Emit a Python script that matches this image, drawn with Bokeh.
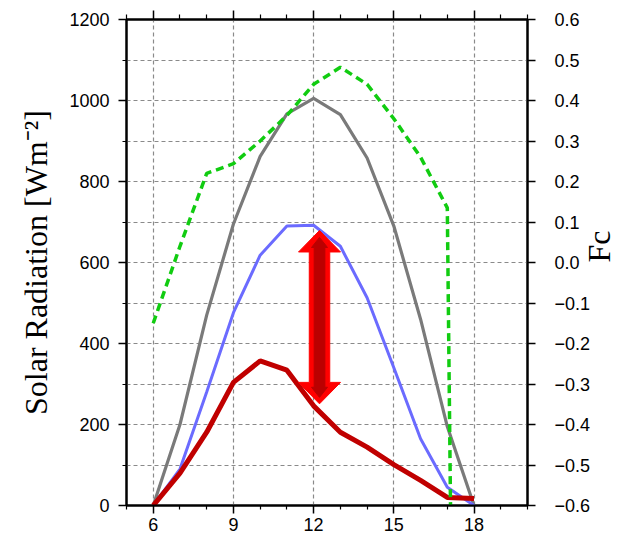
import math
from bokeh.plotting import figure
from bokeh.models import (Range1d, LinearAxis, FixedTicker, CustomJSTickFormatter,
                          ColumnDataSource)
from bokeh.embed import file_html
from bokeh.resources import INLINE

# ---------------- data ----------------
hours = [6, 7, 8, 9, 10, 11, 12, 13, 14, 15, 16, 17, 18]
total_rad = [0, 200, 470, 695, 862, 967, 1005, 965, 858, 690, 460, 195, 0]
clear_rad = [0, 90, 280, 476, 618, 690, 692, 640, 513, 340, 165, 45, 0]
diffuse_rad = [0, 80, 181, 304, 357, 334, 246, 181, 144, 101, 62, 20, 17]

fc_hours = [6, 7, 8, 9, 10, 11, 12, 13, 14, 15, 16, 17, 17.12]
fc_values = [-0.15, 0.04, 0.22, 0.244, 0.30, 0.363, 0.44, 0.482, 0.44, 0.355, 0.26, 0.135, -0.6]

x_major = [6, 9, 12, 15, 18]
x_minor = [5, 7, 8, 10, 11, 13, 14, 16, 17, 19, 20]
y_major = [0, 200, 400, 600, 800, 1000, 1200]
y_minor = [100, 300, 500, 700, 900, 1100]
y_grid = list(range(0, 1201, 100))
fc_ticks = [round(-0.6 + 0.1 * i, 1) for i in range(13)]

left_title = "Solar Radiation [Wm\u207b\u00b2]"
right_title = "Fc"

# double arrow annotation (centre hour, bottom tip, top tip)
arrow_x = 12.22
arrow_bottom = 251
arrow_top = 679

# ---------------- figure ----------------
p = figure(width=638, height=536, output_backend="svg", toolbar_location=None,
           x_range=Range1d(5, 20), y_range=Range1d(0, 1200),
           min_border_left=126, min_border_right=110, min_border_top=19,
           min_border_bottom=31)
p.extra_y_ranges = {"fc": Range1d(-0.6, 0.6)}

p.outline_line_color = "black"
p.outline_line_width = 2
p.background_fill_color = "white"
p.border_fill_color = "white"

tick_font = "Liberation Sans"
label_font = "Liberation Serif"

# bottom axis
xa = p.xaxis[0]
xa.ticker = FixedTicker(ticks=x_major, minor_ticks=x_minor)
xa.major_tick_out = 8
xa.major_tick_in = 0
xa.minor_tick_out = 4
xa.minor_tick_in = 0
xa.axis_line_width = 2
xa.major_tick_line_width = 1.5
xa.minor_tick_line_width = 1.2
xa.major_label_text_font = tick_font
xa.major_label_text_font_size = "18px"
xa.major_label_text_color = "black"
xa.major_label_standoff = 4

# left axis
ya = p.yaxis[0]
ya.ticker = FixedTicker(ticks=y_major, minor_ticks=y_minor)
ya.major_tick_out = 8
ya.major_tick_in = 0
ya.minor_tick_out = 4
ya.minor_tick_in = 0
ya.axis_line_width = 2
ya.major_tick_line_width = 1.5
ya.minor_tick_line_width = 1.2
ya.major_label_text_font = tick_font
ya.major_label_text_font_size = "18px"
ya.major_label_text_color = "black"
ya.major_label_standoff = 9
ya.axis_label = left_title
ya.axis_label_text_font = label_font
ya.axis_label_text_font_size = "32px"
ya.axis_label_text_font_style = "normal"
ya.axis_label_text_color = "black"
ya.axis_label_standoff = 12

# top axis (ticks only, labels not drawn)
ta = LinearAxis(ticker=FixedTicker(ticks=x_major, minor_ticks=x_minor),
                major_tick_out=9, major_tick_in=0, minor_tick_out=5, minor_tick_in=0,
                axis_line_width=2, major_tick_line_width=1.5, minor_tick_line_width=1.2,
                major_label_text_font_size="1px", major_label_text_color=None,
                major_label_standoff=0)
p.add_layout(ta, "above")

# right axis (Fc)
ra = LinearAxis(y_range_name="fc", ticker=FixedTicker(ticks=fc_ticks, minor_ticks=[]),
                formatter=CustomJSTickFormatter(code="return tick.toFixed(1).replace('-', '\u2212');"),
                major_tick_out=8, major_tick_in=0, axis_line_width=2,
                major_tick_line_width=1.5,
                major_label_text_font=tick_font, major_label_text_font_size="18px",
                major_label_text_color="black", major_label_standoff=19,
                axis_label=right_title, axis_label_text_font=label_font,
                axis_label_text_font_size="32px", axis_label_text_font_style="normal",
                axis_label_text_color="black", axis_label_standoff=6,
                axis_label_text_baseline="top")
try:
    ra.axis_label_orientation = math.pi / 2
except Exception:
    pass
p.add_layout(ra, "right")

# grids
p.xgrid.ticker = FixedTicker(ticks=x_major)
p.ygrid.ticker = FixedTicker(ticks=y_grid)
for g in (p.xgrid[0], p.ygrid[0]):
    g.grid_line_color = "#8a8a8a"
    g.grid_line_dash = "4 3"
    g.grid_line_width = 1.2

# ---------------- series ----------------
src = ColumnDataSource(dict(h=hours, total=total_rad, clear=clear_rad, diffuse=diffuse_rad))
p.line("h", "total", source=src, line_color="#7a7a7a", line_width=3.2)
p.line("h", "clear", source=src, line_color="#6b6bff", line_width=3)
p.line("h", "diffuse", source=src, line_color="#c00000", line_width=5)

p.line(fc_hours, fc_values, y_range_name="fc", line_color="#11cc11", line_width=3.5,
       line_dash="8 5")

# ---------------- double arrow ----------------
def double_arrow(xc, y0, y1, half_shaft, half_head, head_len):
    xs = [xc - half_shaft, xc - half_head, xc, xc + half_head, xc + half_shaft,
          xc + half_shaft, xc + half_head, xc, xc - half_head, xc - half_shaft]
    ys = [y0 + head_len, y0 + head_len, y0, y0 + head_len, y0 + head_len,
          y1 - head_len, y1 - head_len, y1, y1 - head_len, y1 - head_len]
    return xs, ys

ox, oy = double_arrow(arrow_x, arrow_bottom, arrow_top, 0.383, 0.785, 53)
p.patch(ox, oy, fill_color="#ff0000", line_color="#ff0000", line_width=1)
ix, iy = double_arrow(arrow_x, arrow_bottom + 16, arrow_top - 17, 0.2, 0.3, 25)
p.patch(ix, iy, fill_color="#bb0000", line_color="#bb0000", line_width=1)

open("out.html", "w").write(file_html(p, INLINE))
